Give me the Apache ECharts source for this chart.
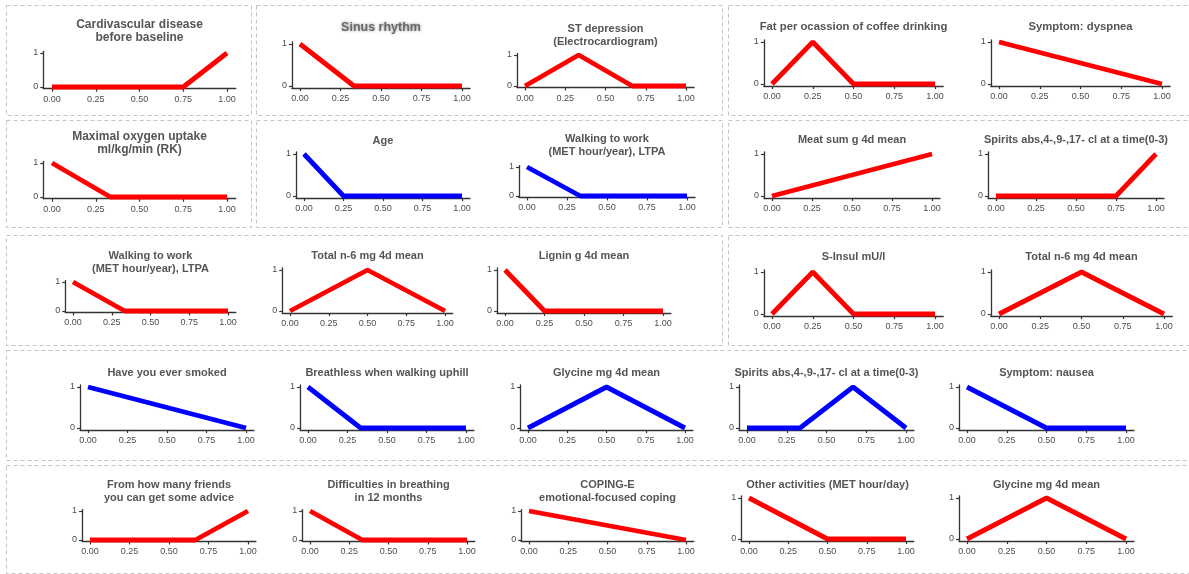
<!DOCTYPE html>
<html>
<head>
<meta charset="utf-8">
<script src="https://cdn.jsdelivr.net/npm/echarts@6/dist/echarts.min.js"></script>
<style>
  html, body { margin: 0; padding: 0; background: #fff; }
  #main { width: 1189px; height: 574px; }
</style>
</head>
<body>
<div id="main"></div>
<script>
// chart data, one entry per small panel (row by row)
const titles = [
  'Cardivascular disease\nbefore baseline', 'Sinus rhythm', 'ST depression\n(Electrocardiogram)',
  'Fat per ocassion of coffee drinking', 'Symptom: dyspnea',
  'Maximal oxygen uptake\nml/kg/min (RK)', 'Age', 'Walking to work\n(MET hour/year), LTPA',
  'Meat sum g 4d mean', 'Spirits abs,4-,9-,17- cl at a time(0-3)',
  'Walking to work\n(MET hour/year), LTPA', 'Total n-6 mg 4d mean', 'Lignin g 4d mean',
  'S-Insul mU/l', 'Total n-6 mg 4d mean',
  'Have you ever smoked', 'Breathless when walking uphill', 'Glycine mg 4d mean',
  'Spirits abs,4-,9-,17- cl at a time(0-3)', 'Symptom: nausea',
  'From how many friends\nyou can get some advice', 'Difficulties in breathing\nin 12 months',
  'COPING-E\nemotional-focused coping', 'Other activities (MET hour/day)', 'Glycine mg 4d mean'
];
const groups = [
  'A', 'A', 'A', 'A', 'A',
  'A', 'B', 'B', 'A', 'A',
  'A', 'A', 'A', 'A', 'A',
  'B', 'B', 'B', 'B', 'B',
  'A', 'A', 'A', 'A', 'A'
];
const xVals = [
  [0, 0.75, 1], [0, 1 / 3, 1], [0, 1 / 3, 2 / 3, 1], [0, 0.25, 0.5, 1], [0, 1],
  [0, 1 / 3, 1], [0, 0.25, 1], [0, 1 / 3, 1], [0, 1], [0, 0.75, 1],
  [0, 1 / 3, 1], [0, 0.5, 1], [0, 0.25, 1], [0, 0.25, 0.5, 1], [0, 0.5, 1],
  [0, 1], [0, 1 / 3, 1], [0, 0.5, 1], [0, 1 / 3, 2 / 3, 1], [0, 0.5, 1],
  [0, 2 / 3, 1], [0, 1 / 3, 1], [0, 1], [0, 0.5, 1], [0, 0.5, 1]
];
const yVals = [
  [0, 0, 1], [1, 0, 0], [0, 1, 0, 0], [0, 1, 0, 0], [1, 0],
  [1, 0, 0], [1, 0, 0], [1, 0, 0], [0, 1], [0, 0, 1],
  [1, 0, 0], [0, 1, 0], [1, 0, 0], [0, 1, 0, 0], [0, 1, 0],
  [1, 0], [1, 0, 0], [0, 1, 0], [0, 0, 1, 0], [1, 0, 0],
  [0, 0, 1], [1, 0, 0], [1, 0], [1, 0, 0], [0, 1, 0]
];
const xTicks = [0, 0.25, 0.5, 0.75, 1];
const yTicks = [0, 1];

// layout: pixel of x=0, x=1, y=1, y=0, first title line, title size
const panels = [
  [52, 227, 53, 87, 25, 12], [300, 462, 44, 86, 28, 12.5], [525, 686, 55, 86, 29, 11], [772, 935, 42, 84, 27, 11.3], [999, 1162, 42, 84, 27, 11.3],
  [52, 227, 163, 197, 137, 12], [304, 462, 154, 196, 141, 11], [527, 687, 167, 196, 139, 11], [772, 932, 154, 196, 140, 11], [996, 1156, 154, 196, 140, 11],
  [73, 228, 282, 311, 256, 11], [290, 445, 270, 311, 256, 11], [505, 663, 270, 311, 256, 11], [772, 935, 272, 314, 257, 11], [999, 1164, 272, 314, 257, 11],
  [88, 246, 387, 428, 373, 11], [308, 466, 387, 428, 373, 11], [528, 685, 387, 428, 373, 11], [747, 906, 387, 428, 373, 11], [967, 1126, 387, 428, 373, 11],
  [90, 248, 511, 540, 485, 11], [310, 467, 511, 540, 485, 11], [529, 686, 511, 540, 485, 11], [749, 906, 498, 539, 485, 11], [967, 1126, 498, 539, 485, 11]
];
// dashed boxes [x, y, w, h]
const boxes = [
  [6, 5, 245, 110], [256, 5, 466, 110], [728, 5, 470, 110],
  [6, 120, 245, 107], [256, 120, 466, 107], [728, 120, 470, 107],
  [6, 235, 716, 110], [728, 235, 470, 110],
  [6, 350, 1200, 110],
  [6, 465, 1200, 108]
];

const colorMap = { A: '#ff0000', B: '#0000ff' };
const axisColor = '#333';
const pad = 0.05;

const grid = [], xAxis = [], yAxis = [], series = [], graphic = [];

boxes.forEach(b => {
  graphic.push({
    type: 'rect', silent: true,
    shape: { x: b[0] + 0.5, y: b[1] + 0.5, width: b[2], height: b[3] },
    style: { fill: 'none', stroke: '#c4c4c4', lineWidth: 1, lineDash: [4, 3] }
  });
});

titles.forEach((t, i) => {
  const [x0, x1, y1, y0, ty, fs] = panels[i];
  const w = x1 - x0, h = y0 - y1;
  grid.push({
    left: x0 - pad * w, top: y1 - pad * h,
    width: w * (1 + 2 * pad), height: h * (1 + 2 * pad),
    containLabel: false, outerBoundsMode: 'none'
  });
  xAxis.push({
    type: 'value', gridIndex: i, min: -pad, max: 1 + pad,
    axisLine: { show: true, onZero: false, lineStyle: { color: axisColor, width: 1.3 } },
    axisTick: { show: true, customValues: xTicks, length: 3, lineStyle: { color: axisColor, width: 1.2 } },
    axisLabel: {
      customValues: xTicks, formatter: v => Number(v).toFixed(2),
      fontSize: 9, color: '#4d4d4d', margin: 6, fontFamily: 'Liberation Sans'
    },
    splitLine: { show: false }
  });
  yAxis.push({
    type: 'value', gridIndex: i, min: -pad, max: 1 + pad,
    axisLine: { show: true, onZero: false, lineStyle: { color: axisColor, width: 1.3 } },
    axisTick: { show: true, customValues: yTicks, length: 3, lineStyle: { color: axisColor, width: 1.2 } },
    axisLabel: {
      customValues: yTicks, formatter: v => String(v),
      fontSize: 9, color: '#4d4d4d', margin: 5, fontFamily: 'Liberation Sans'
    },
    splitLine: { show: false }
  });
  const c = colorMap[groups[i]];
  series.push({
    type: 'line', xAxisIndex: i, yAxisIndex: i,
    data: xVals[i].map((x, k) => [x, yVals[i][k]]),
    symbol: 'none', clip: false,
    lineStyle: { color: c, width: 4.8 }, itemStyle: { color: c }
  });
  // title over the panel
  const shadow = t === 'Sinus rhythm';
  graphic.push({
    type: 'text', silent: true,
    x: (x0 + x1) / 2, y: ty - 6.5,
    style: {
      text: t, align: 'center', verticalAlign: 'top', lineHeight: 13,
      fontFamily: 'Liberation Sans', fontWeight: 'bold', fontSize: fs,
      fill: shadow ? '#6a6a6a' : '#555',
      textShadowColor: shadow ? 'rgba(0,0,0,0.45)' : 'transparent',
      textShadowBlur: shadow ? 3 : 0
    }
  });
});

const myChart = echarts.init(document.getElementById('main'));
myChart.setOption({
  animation: false,
  backgroundColor: '#fff',
  grid, xAxis, yAxis, series, graphic
});
</script>
</body>
</html>
